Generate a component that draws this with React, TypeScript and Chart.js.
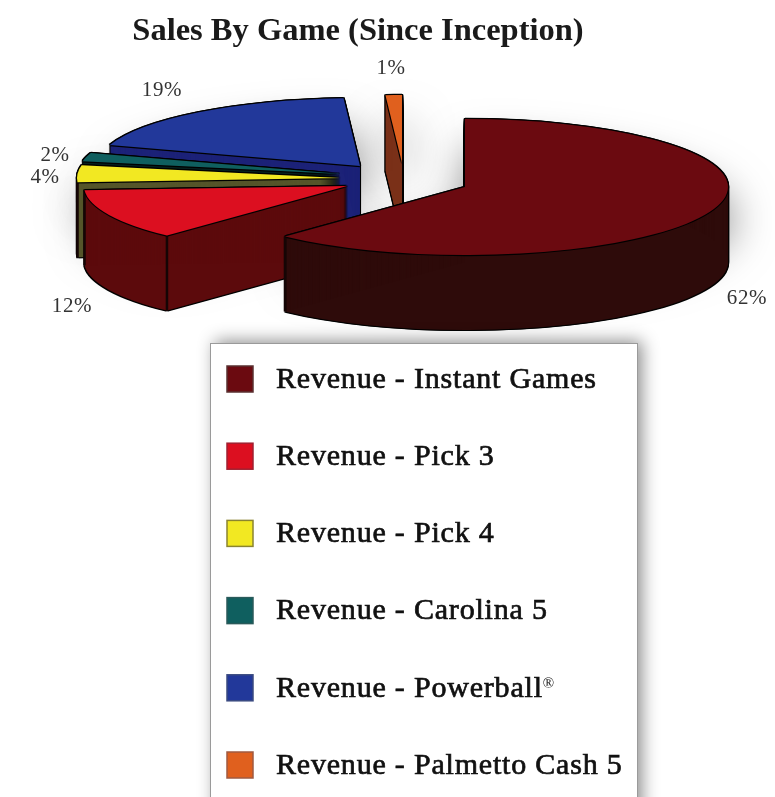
import React, { useEffect, useRef } from "react";
import { Chart, registerables } from "chart.js";

Chart.register(...registerables);

const titleText = "Sales By Game (Since Inception)";
const categories = [
  "Revenue - Instant Games",
  "Revenue - Pick 3",
  "Revenue - Pick 4",
  "Revenue - Carolina 5",
  "Revenue - Powerball®",
  "Revenue - Palmetto Cash 5",
];
const shares = [62, 12, 4, 2, 19, 1];
const topColors = ["#6b0a10", "#dc0f20", "#f2e822", "#0f5f5f", "#22389a", "#e0601e"];
const wallColors = ["#2e0b0a", "#5c0a0c", "#55552a", "#06201e", "#1c2278", "#7a3018"];
const swatchBorders = ["#5a3030", "#a02030", "#8a8430", "#2a5a5a", "#3a4a80", "#a05a40"];

// Layout of the 3-D view (not data).
const CENTER = { x: 465, y: 187 };
const RX = 263;
const RY = 68;
const DEPTH = 75;
const explode: [number, number][] = [[0, 0], [-118, -1], [-125, -9], [-124, -13], [-105, -21], [-63, -24]];
const drawOrder = [4, 5, 3, 2, 1, 0];
const labelPos: [number, number][] = [[747, 298], [72, 306], [45, 177], [55, 155], [162, 90], [391, 68]];
const LEGEND = { left: 210, top: 343, right: 637, swatchX: 227, textX: 276, firstY: 379, step: 77.2, size: 26 };
const SERIF = '"Liberation Serif", serif';

function paintArc(ctx: any, arc: any, i: number, dx: number, dy: number, color: string) {
  const saved = arc.options;
  arc.options = {
    backgroundColor: color, borderColor: color, borderWidth: 0, borderAlign: "center",
    offset: 0, spacing: 0, circular: true, borderRadius: 0, borderJoinStyle: "round",
  };
  const k = RX / arc.outerRadius;
  ctx.save();
  ctx.translate(CENTER.x + explode[i][0] + dx, CENTER.y + explode[i][1] + dy);
  ctx.scale(k, (RY / RX) * k);
  ctx.translate(-arc.x, -arc.y);
  arc.draw(ctx);
  ctx.restore();
  arc.options = saved;
}

const pie3d = {
  id: "pie3d",
  beforeDraw(chart: any) {
    const { ctx } = chart;
    ctx.save();
    ctx.fillStyle = "#ffffff";
    ctx.fillRect(0, 0, chart.width, chart.height);
    ctx.restore();
  },
  afterLayout(chart: any) {
    const t = chart.titleBlock;
    t.left = 0; t.right = 716; t.top = 12; t.bottom = 48;
  },
  beforeDatasetDraw(chart: any) {
    const { ctx } = chart;
    const arcs = chart.getDatasetMeta(0).data;
    // soft shadow
    ctx.save();
    ctx.shadowColor = "rgba(0,0,0,0.55)";
    ctx.shadowBlur = 45;
    ctx.shadowOffsetX = 3;
    ctx.shadowOffsetY = 2;
    drawOrder.forEach((i) => paintArc(ctx, arcs[i], i, 0, 30, "#ffffff"));
    ctx.restore();

    drawOrder.forEach((i) => {
      const arc = arcs[i];
      // black silhouette
      for (let d = -1; d <= DEPTH + 1; d += 1) {
        paintArc(ctx, arc, i, -1.2, d, "#000000");
        paintArc(ctx, arc, i, 1.2, d, "#000000");
      }
      // walls
      for (let d = 0; d <= DEPTH; d += 1) paintArc(ctx, arc, i, 0, d, wallColors[i]);
      // corner edges on the front half
      [arc.startAngle, arc.endAngle].forEach((a: number) => {
        if (Math.sin(a) > 0.02) {
          const px = CENTER.x + explode[i][0] + RX * Math.cos(a);
          const py = CENTER.y + explode[i][1] + RY * Math.sin(a);
          ctx.save();
          ctx.strokeStyle = "#150505";
          ctx.lineWidth = 2.5;
          ctx.beginPath();
          ctx.moveTo(px, py);
          ctx.lineTo(px, py + DEPTH);
          ctx.stroke();
          ctx.restore();
        }
      });
      // outline of the top face, then the face
      [[-1.2, 0], [1.2, 0], [0, -1.2], [0, 1.2]].forEach(([dx, dy]) => paintArc(ctx, arc, i, dx, dy, "#000000"));
      paintArc(ctx, arc, i, 0, 0, topColors[i]);
    });
    return false;
  },
  afterDraw(chart: any) {
    const { ctx } = chart;
    ctx.save();
    // percentage labels
    ctx.font = `21px ${SERIF}`;
    ctx.letterSpacing = "0.6px";
    ctx.fillStyle = "#333333";
    ctx.textAlign = "center";
    ctx.textBaseline = "middle";
    shares.forEach((v, i) => ctx.fillText(`${v}%`, labelPos[i][0], labelPos[i][1]));

    // legend panel
    const L = LEGEND;
    ctx.save();
    ctx.shadowColor = "rgba(0,0,0,0.45)";
    ctx.shadowBlur = 16;
    ctx.shadowOffsetX = 5;
    ctx.shadowOffsetY = -2;
    ctx.fillStyle = "#ffffff";
    ctx.fillRect(L.left, L.top, L.right - L.left, chart.height + 30 - L.top);
    ctx.restore();
    ctx.strokeStyle = "#9a9a9a";
    ctx.lineWidth = 1;
    ctx.strokeRect(L.left + 0.5, L.top + 0.5, L.right - L.left, chart.height + 30 - L.top);

    ctx.textAlign = "left";
    categories.forEach((c, i) => {
      const y = L.firstY + i * L.step;
      ctx.fillStyle = topColors[i];
      ctx.strokeStyle = swatchBorders[i];
      ctx.lineWidth = 1.5;
      ctx.fillRect(L.swatchX, y - L.size / 2, L.size, L.size);
      ctx.strokeRect(L.swatchX, y - L.size / 2, L.size, L.size);
      ctx.fillStyle = "#111111";
      ctx.strokeStyle = "#111111";
      ctx.lineWidth = 0.7;
      ctx.font = `30px ${SERIF}`;
      ctx.letterSpacing = "0.8px";
      const mark = c.endsWith("®");
      const main = mark ? c.slice(0, -1) : c;
      ctx.fillText(main, L.textX, y + 1);
      ctx.strokeText(main, L.textX, y + 1);
      if (mark) {
        const w = ctx.measureText(main).width;
        ctx.font = `15px ${SERIF}`;
        ctx.letterSpacing = "0px";
        ctx.fillText("®", L.textX + w, y - 4);
      }
    });
    ctx.restore();
  },
};

export default function App() {
  const ref = useRef<HTMLCanvasElement>(null);
  useEffect(() => {
    if (!ref.current) return;
    const chart = new Chart(ref.current, {
      type: "pie",
      data: {
        labels: categories,
        datasets: [{ data: shares, backgroundColor: topColors, borderWidth: 0 }],
      },
      options: {
        responsive: false,
        animation: false,
        events: [],
        plugins: {
          legend: { display: false },
          tooltip: { enabled: false },
          title: {
            display: true,
            text: titleText,
            color: "#1a1a1a",
            padding: 0,
            font: { family: SERIF, size: 32.5, weight: "bold" },
          },
        },
      },
      plugins: [pie3d],
    } as any);
    return () => chart.destroy();
  }, []);
  return (
    <canvas
      ref={ref}
      width={775}
      height={797}
      style={{ position: "absolute", left: 0, top: 0, display: "block", filter: "blur(0.7px)" }}
    />
  );
}
